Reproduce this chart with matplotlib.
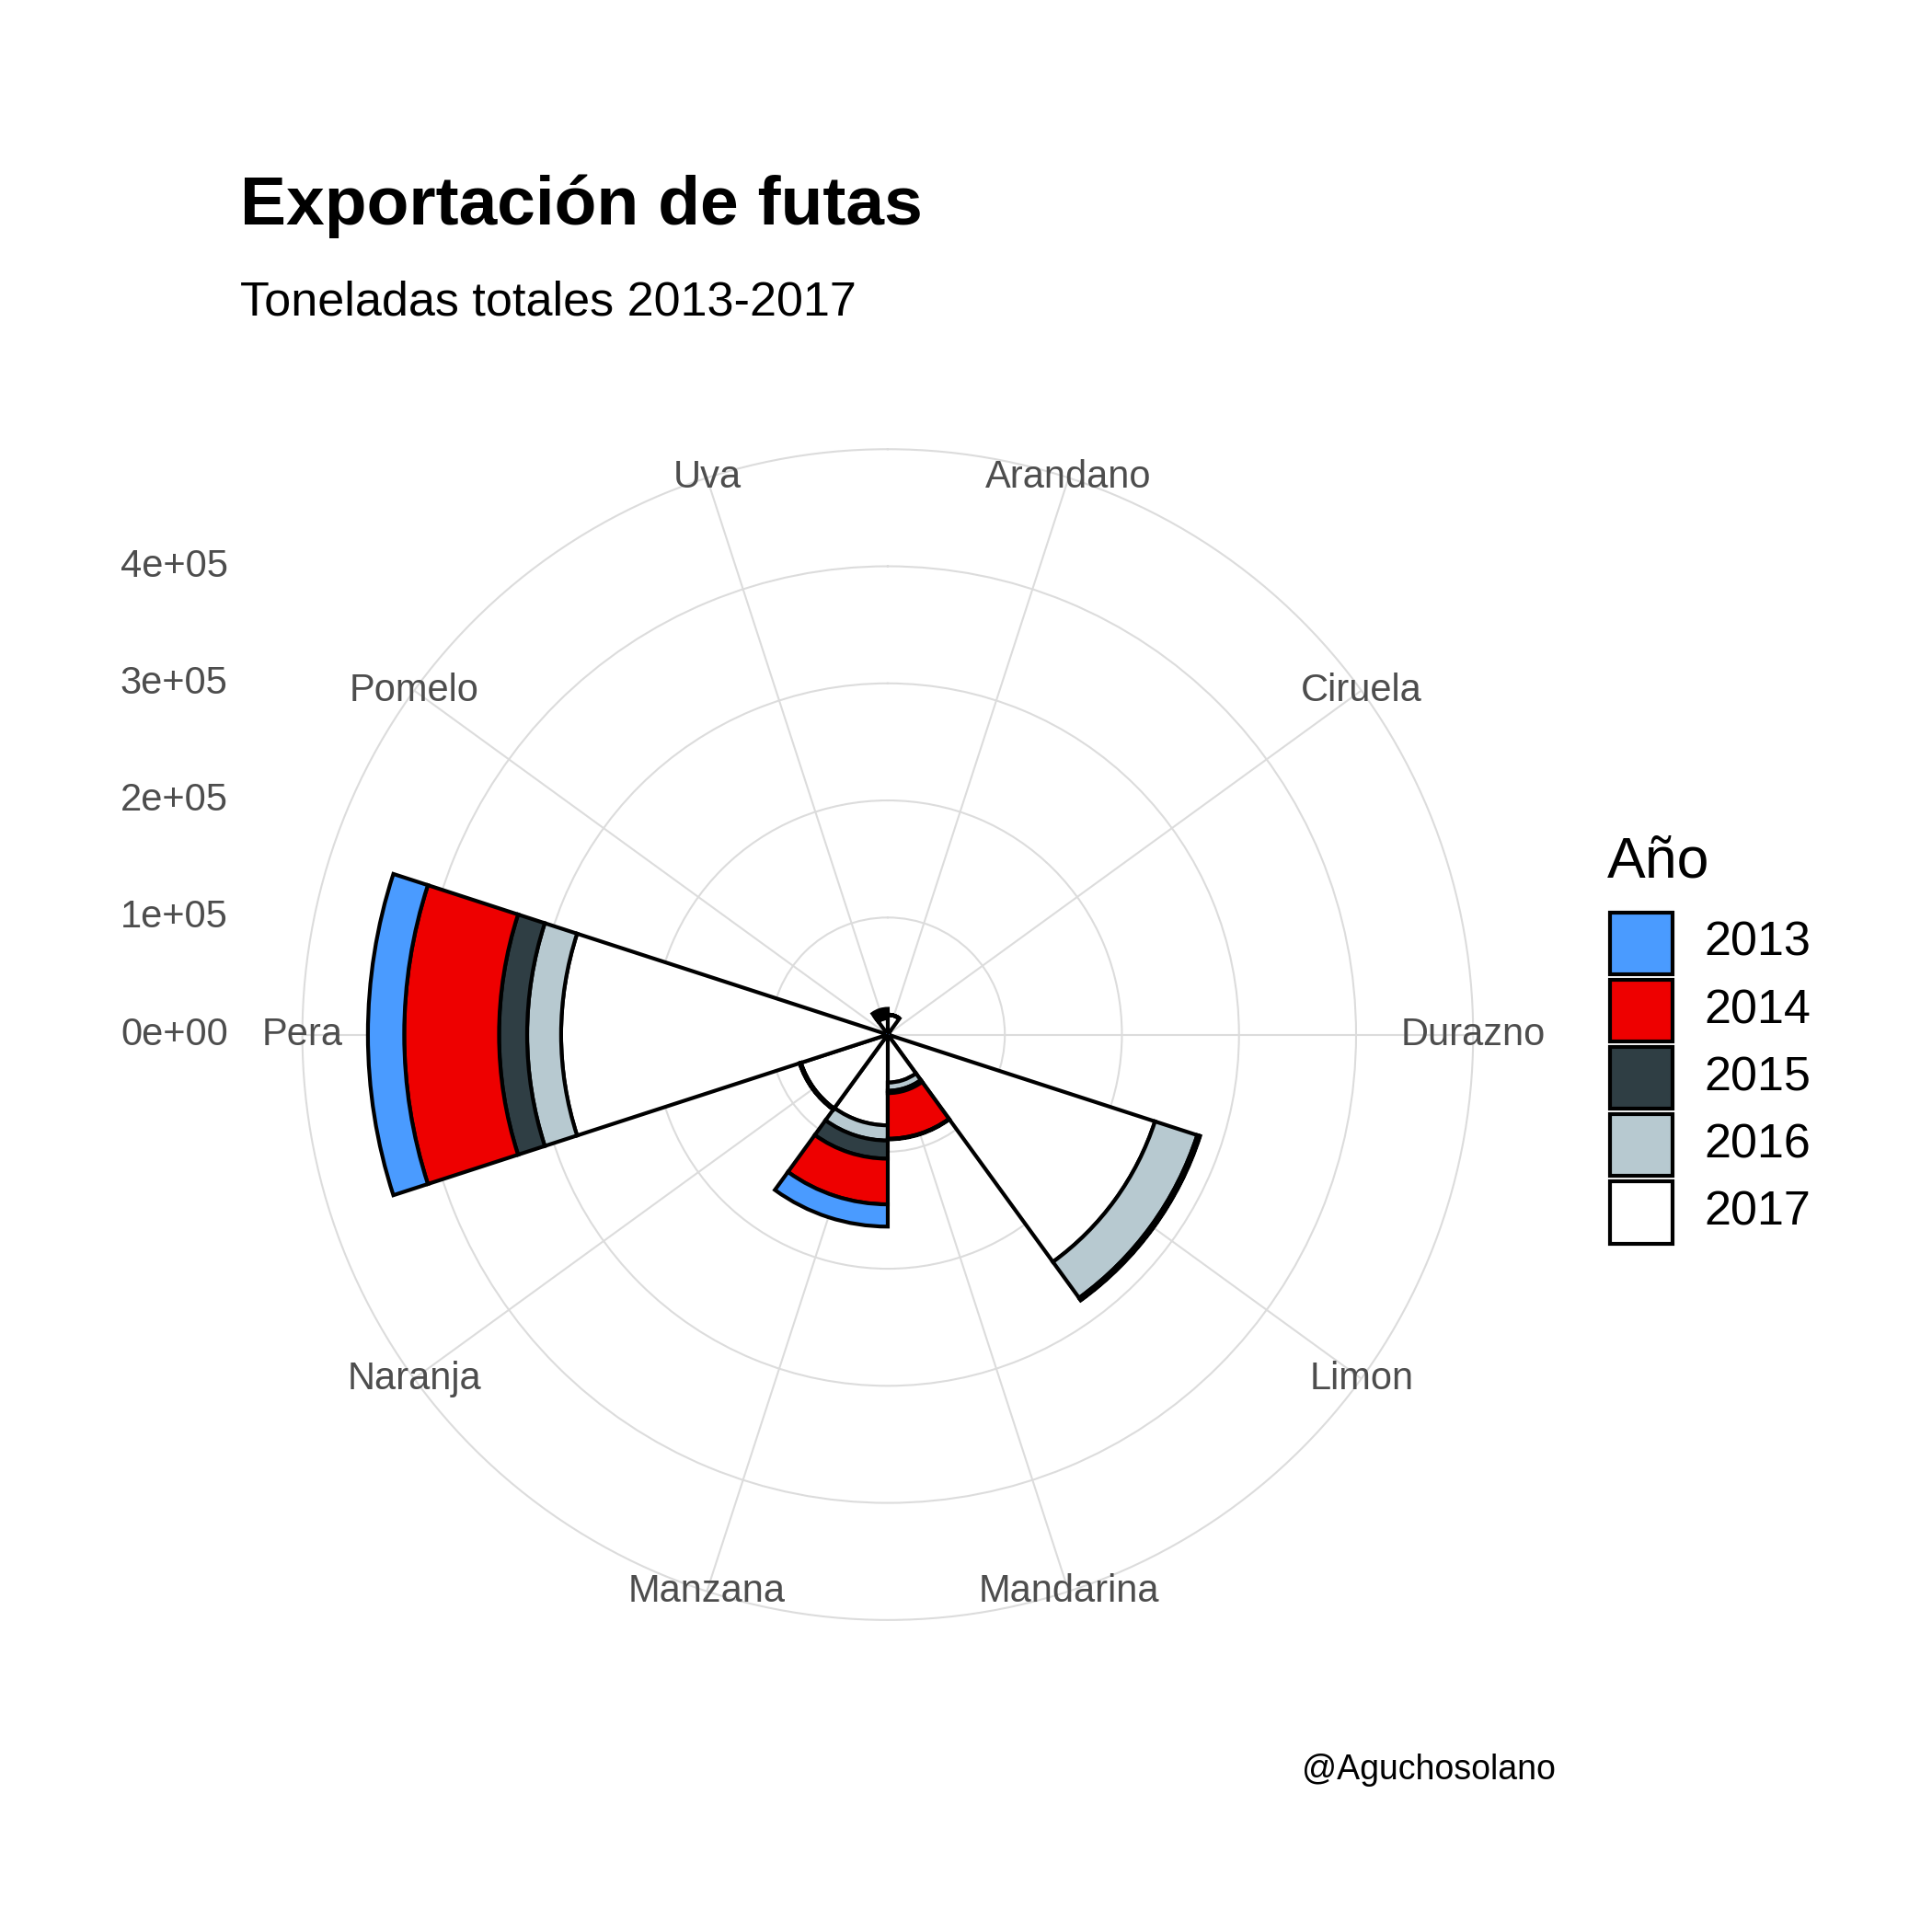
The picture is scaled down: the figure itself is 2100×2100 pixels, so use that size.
import numpy as np
import matplotlib.pyplot as plt
from matplotlib.patches import Rectangle
from matplotlib.transforms import Bbox, TransformedBbox

plt.rcParams['font.family'] = ['Liberation Sans', 'DejaVu Sans']

frutas = ['Arandano', 'Ciruela', 'Durazno', 'Limon', 'Mandarina',
          'Manzana', 'Naranja', 'Pera', 'Pomelo', 'Uva']
anios = ['2013', '2014', '2015', '2016', '2017']
colores = ['#4A9BFF', '#EE0000', '#2F3E44', '#B7C9D0', '#FFFFFF']

# toneladas por año (estimadas del grafico)
t2013 = [0, 300, 300, 500, 500, 19000, 300, 31000, 300, 3000]
t2014 = [0, 300, 300, 500, 39000, 39000, 300, 81000, 300, 2000]
t2015 = [0, 300, 300, 1500, 2000, 15500, 300, 24000, 300, 1000]
t2016 = [0, 300, 300, 38000, 7000, 13000, 300, 29000, 300, 2000]
t2017 = [17000, 300, 300, 240000, 41000, 77500, 78000, 279000, 300, 14000]
series = [t2013, t2014, t2015, t2016, t2017]

fig = plt.figure(figsize=(7, 7), dpi=300)
ax = fig.add_axes([0.1565, 0.1615, 0.606, 0.606], projection='polar')
ax.set_theta_zero_location('N')
ax.set_theta_direction(-1)

n = len(frutas)
theta = np.arange(n) * 2 * np.pi / n + np.pi / n
width = 2 * np.pi / n

bottom = np.zeros(n)
# apilado: 2017 adentro, 2013 afuera
for vals, col in zip(series[::-1], colores[::-1]):
    ax.bar(theta, vals, width=width, bottom=bottom, color=col,
           edgecolor='black', linewidth=1.0, zorder=3)
    bottom += np.array(vals)

rmax = 5e5
ax.set_ylim(0, rmax)
ax.set_yticks([1e5, 2e5, 3e5, 4e5])
ax.set_yticklabels([])
ax.set_xticks(theta)
ax.set_xticklabels([])
ax.grid(color='#dcdcdc', linewidth=0.5)
ax.spines['polar'].set_color('#dcdcdc')
ax.spines['polar'].set_linewidth(0.5)

clip = TransformedBbox(Bbox([[0, 0], [0.806, 1]]), fig.transFigure)
for th, name in zip(theta, frutas):
    t = ax.text(th, rmax, name, ha='center', va='center', fontsize=10,
                color='#4d4d4d', zorder=5)
    t.set_clip_on(True)
    t.set_clip_box(clip)

# etiquetas del eje radial a la izquierda
inv = fig.transFigure.inverted()
for r in [0, 1e5, 2e5, 3e5, 4e5]:
    y = inv.transform(ax.transData.transform((0, r)))[1]
    fig.text(0.118, y, f'{int(r/1e5)}e+0{5 if r else 0}', ha='right',
             va='center', fontsize=10, color='#4d4d4d')

fig.text(0.1245, 0.884, 'Exportación de futas', fontsize=18,
         fontweight='bold', ha='left', va='baseline')
fig.text(0.1245, 0.837, 'Toneladas totales 2013-2017', fontsize=12.5,
         ha='left', va='baseline')
fig.text(0.805, 0.079, '@Aguchosolano', fontsize=9, ha='right',
         va='baseline')

# leyenda
fig.text(0.832, 0.546, 'Año', fontsize=15, ha='left', va='baseline')
for i, (a, col) in enumerate(zip(anios, colores)):
    ytop = 1 - (732 + 54 * i) / 1550
    fig.patches.append(Rectangle((0.8335, ytop - 0.032), 0.032, 0.032,
                                 transform=fig.transFigure, facecolor=col,
                                 edgecolor='black', linewidth=1.0))
    fig.text(0.882, ytop - 0.016, a, fontsize=12.5, ha='left', va='center')

fig.savefig('out.png', dpi=300, facecolor='white')
